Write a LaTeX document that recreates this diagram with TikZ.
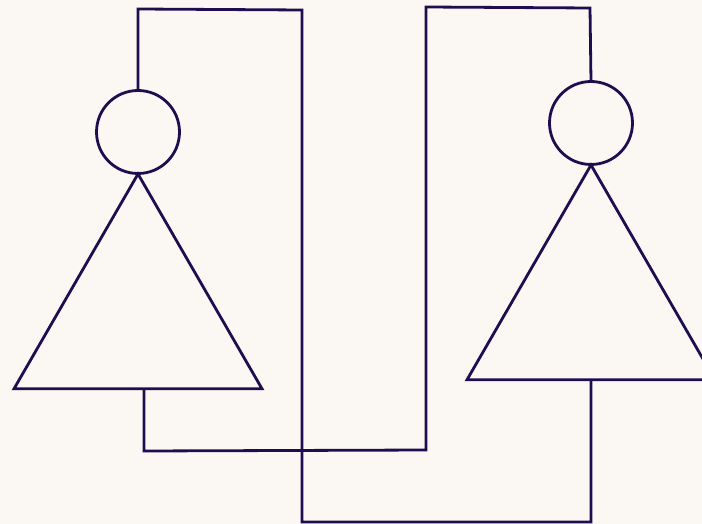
\documentclass[tikz,border=0pt]{standalone}
\usetikzlibrary{shapes.geometric}
\definecolor{bgc}{RGB}{251,247,243}
\definecolor{ink}{RGB}{30,14,80}
\begin{document}
\begin{tikzpicture}[x=1bp,y=-1bp,
  wire/.style={draw=ink,line width=2.8bp,line join=miter},
  head/.style={circle,draw=ink,line width=2.8bp,minimum size=83bp,inner sep=0pt,outer sep=0pt},
  body/.style={regular polygon,regular polygon sides=3,draw=ink,line width=2.8bp,minimum size=286.4bp,inner sep=0pt,outer sep=0pt}]
\useasboundingbox (0,0) rectangle (702,524);
\clip (0,0) rectangle (702,524);
\fill[bgc] (0,0) rectangle (702,524);
% left figure
\node[head] (h1) at (138,132) {};
\node[body] (b1) at (138,317.2) {};
% right figure
\node[head] (h2) at (591,123) {};
\node[body] (b2) at (591,308.2) {};
% junction coordinates
\coordinate (t1a) at (138,9);
\coordinate (t1b) at (302,10);
\coordinate (bot) at (302,522);
\coordinate (b2base) at (591,379);
\coordinate (b1base) at (144,388.5);
\coordinate (m1) at (144,451);
\coordinate (m2) at (426,450);
\coordinate (t2a) at (426,7);
\coordinate (t2b) at (590,8);
% connectors
\draw[wire] (h1.north) -- (t1a) -- (t1b) -- (bot) -| (b2base);
\draw[wire] (b1base) -- (m1) -- (m2) -- (t2a) -- (t2b) -- (h2.north);
\end{tikzpicture}
\end{document}
